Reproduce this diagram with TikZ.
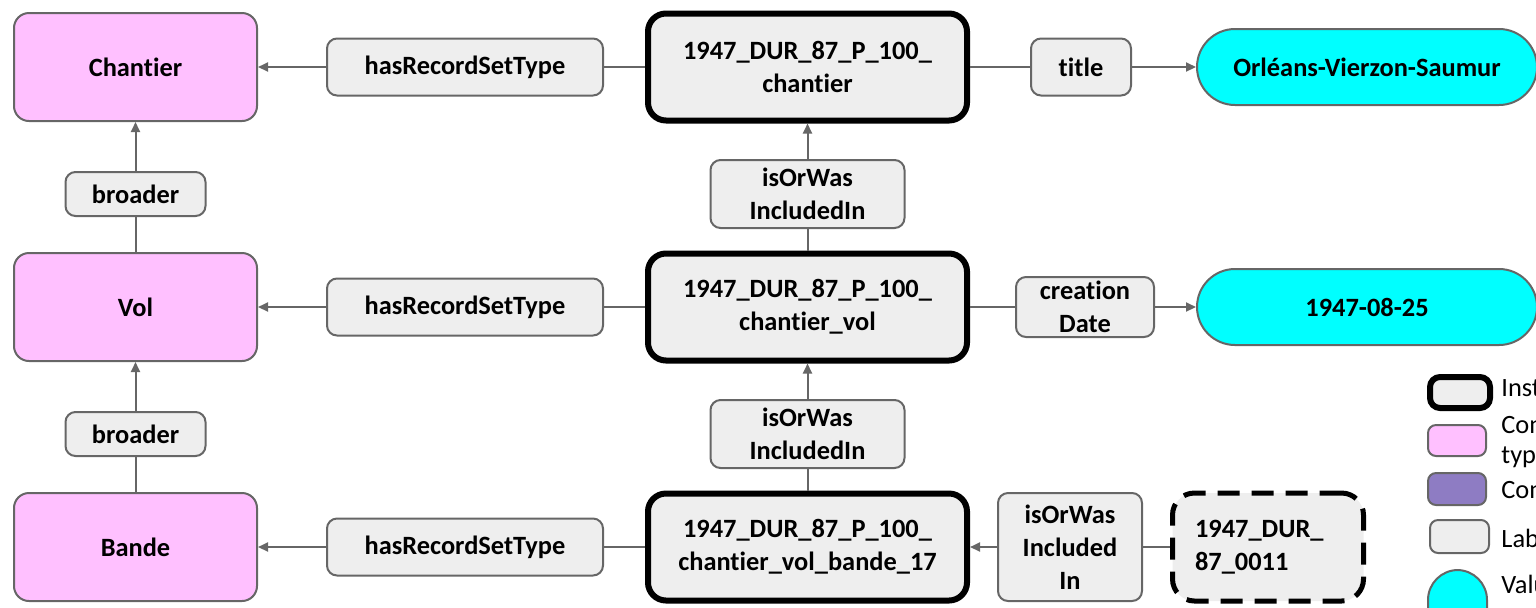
\documentclass[tikz,border=0pt]{standalone}
\usepackage{fontspec}
\setmainfont{Carlito}[Ligatures={NoCommon,NoContextual}]
\usetikzlibrary{arrows.meta}
\definecolor{pinkfill}{HTML}{FFC0FF}
\definecolor{greyfill}{HTML}{EEEEEE}
\definecolor{edgegrey}{HTML}{666666}
\definecolor{purplefill}{HTML}{8E7CC3}
\definecolor{cyanfill}{HTML}{00FFFF}
\tikzset{
    every node/.style={font=\fontsize{13.2}{16.4}\selectfont\bfseries, inner sep=0pt, align=center},
    concept/.style={draw=edgegrey, line width=1pt, fill=pinkfill, rounded corners=7.5pt, minimum width=121.5pt, minimum height=54pt},
    prop/.style={draw=edgegrey, line width=1pt, fill=greyfill, rounded corners=5pt},
    inst/.style={draw=black, line width=3pt, fill=greyfill, rounded corners=9pt, minimum width=159.5pt, minimum height=53.5pt},
    wip/.style={draw=black, line width=2.5pt, dash pattern=on 11pt off 6pt, fill=greyfill, rounded corners=11pt, minimum width=95.5pt, minimum height=54pt, align=left, text width=73pt},
    val/.style={draw=edgegrey, line width=1pt, fill=cyanfill, rounded corners=19pt, minimum width=170pt, minimum height=38pt},
    legtext/.style={anchor=base west, font=\fontsize{13.2}{16.4}\selectfont},
    link/.style={draw=edgegrey, line width=1pt},
    arr/.style={link, -{Triangle[length=5pt,width=4.5pt]}}
}

\begin{document}
\begin{tikzpicture}[x=0.5pt, y=-0.5pt]
        \clip (0,0) rectangle (1536,607);
        \node[concept] (chantier) at (135.5,67) {Chantier};
        \node[concept] (vol) at (135.5,307) {Vol};
        \node[concept] (bande) at (135.5,547) {Bande};
        \node[prop, minimum width=70pt, minimum height=22pt] (broaderA) at (135.5,194) {broader};
        \node[prop, minimum width=70pt, minimum height=22pt] (broaderB) at (135.5,434) {broader};
        \node[prop, minimum width=138pt, minimum height=28.5pt] (typeA) at (465,67) {hasRecordSetType};
        \node[prop, minimum width=138pt, minimum height=28.5pt] (typeB) at (465,307) {hasRecordSetType};
        \node[prop, minimum width=138pt, minimum height=28.5pt] (typeC) at (465,547) {hasRecordSetType};
        \node[inst] (instA) at (807.5,67) {1947\_DUR\_87\_P\_100\_\\chantier};
        \node[inst] (instB) at (807.5,307) {1947\_DUR\_87\_P\_100\_\\chantier\_vol};
        \node[inst] (instC) at (807.5,547) {1947\_DUR\_87\_P\_100\_\\chantier\_vol\_bande\_17};
        \node[prop, minimum width=97pt, minimum height=34pt] (inclA) at (807.5,194) {isOrWas\\IncludedIn};
        \node[prop, minimum width=97pt, minimum height=34pt] (inclB) at (807.5,434) {isOrWas\\IncludedIn};
        \node[prop, minimum width=72pt, minimum height=54pt] (inclC) at (1070,547) {isOrWas\\Included\\In};
        \node[wip] (cote) at (1268,547) {1947\_DUR\_\\87\_0011};
        \node[prop, minimum width=50pt, minimum height=28.5pt] (titleP) at (1081,67) {title};
        \node[prop, minimum width=69pt, minimum height=30pt] (dateP) at (1085,307) {creation\\Date};
        \node[val] (titleV) at (1367,67) {Orléans-Vierzon-Saumur};
        \node[val] (dateV) at (1367,307) {1947-08-25};

        \draw[arr] (typeA) -- (chantier);
        \draw[arr] (typeB) -- (vol);
        \draw[arr] (typeC) -- (bande);
        \draw[link] (instA) -- (typeA);
        \draw[link] (instB) -- (typeB);
        \draw[link] (instC) -- (typeC);
        \draw[link] (vol) -- (broaderA);
        \draw[arr] (broaderA) -- (chantier);
        \draw[link] (bande) -- (broaderB);
        \draw[arr] (broaderB) -- (vol);
        \draw[link] (instB) -- (inclA);
        \draw[arr] (inclA) -- (instA);
        \draw[link] (instC) -- (inclB);
        \draw[arr] (inclB) -- (instB);
        \draw[link] (cote) -- (inclC);
        \draw[arr] (inclC) -- (instC);
        \draw[link] (instA) -- (titleP);
        \draw[arr] (titleP) -- (titleV);
        \draw[link] (instB) -- (dateP);
        \draw[arr] (dateP) -- (dateV);

        \draw[line width=3pt, fill=greyfill, rounded corners=5pt] (1430,377) rectangle (1490,408);
        \draw[draw=edgegrey, line width=1pt, fill=pinkfill, rounded corners=4pt] (1428,425) rectangle (1486,456);
        \draw[draw=edgegrey, line width=1pt, fill=purplefill, rounded corners=4pt] (1428,473) rectangle (1486,505);
        \draw[draw=edgegrey, line width=1pt, fill=greyfill, rounded corners=4pt] (1430,520) rectangle (1489,553);
        \draw[draw=edgegrey, line width=1pt, fill=cyanfill, rounded corners=15pt] (1428,570) rectangle (1487,640);
        \node[legtext] (legInst) at (1501,396) {Instance};
        \node[legtext] (legConA) at (1501,433) {Concept};
        \node[legtext] (legTyp) at (1501,463) {type};
        \node[legtext] (legConB) at (1501,498) {Concept};
        \node[legtext] (legLab) at (1501,547) {Label};
        \node[legtext] (legVal) at (1501,593) {Value};
    \end{tikzpicture}
\end{document}
